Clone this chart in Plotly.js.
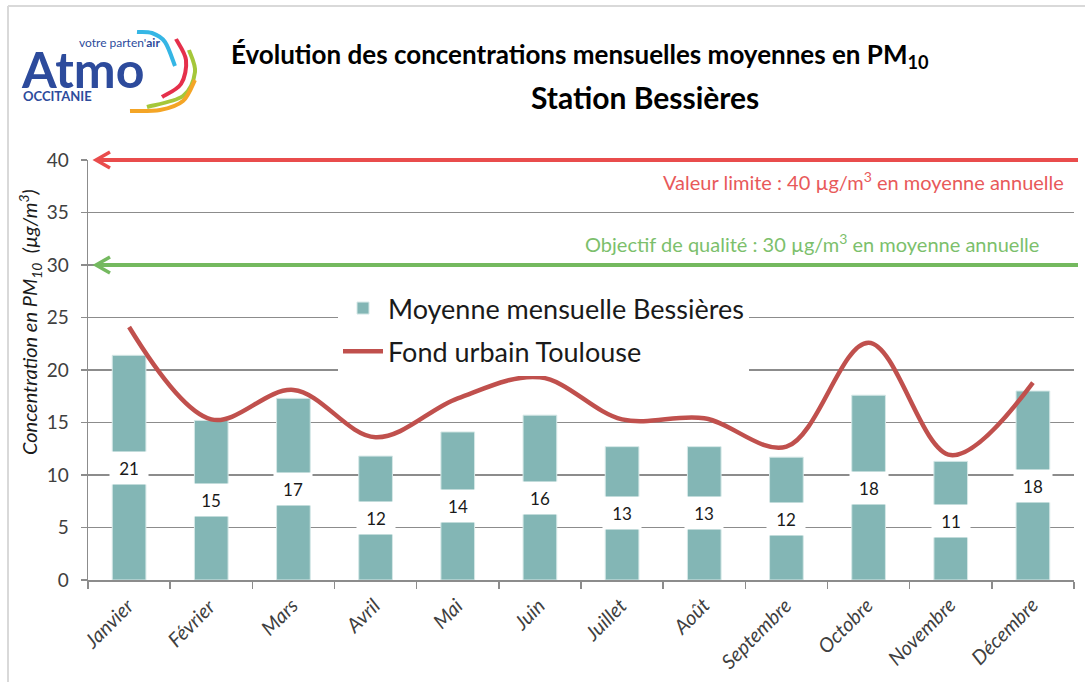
<!DOCTYPE html>
<html>
<head>
<meta charset="utf-8">
<script src="https://cdn.plot.ly/plotly-3.0.1.min.js"></script>
<style>html,body{margin:0;padding:0;background:#fff;}#chart{width:1085px;height:682px;}</style>
</head>
<body>
<div id="chart"></div>
<script>
// ---- data ----
const months = ["Janvier","Février","Mars","Avril","Mai","Juin","Juillet","Août","Septembre","Octobre","Novembre","Décembre"];
const bessieres = [21.4, 15.2, 17.3, 11.8, 14.1, 15.7, 12.7, 12.7, 11.7, 17.6, 11.3, 18.0];
const bessieresLabels = ["21","15","17","12","14","16","13","13","12","18","11","18"];
const toulouse = [24.1, 15.3, 18.1, 13.6, 17.3, 19.3, 15.3, 15.4, 12.7, 22.6, 11.9, 18.8];
const yTicks = [0, 5, 10, 15, 20, 25, 30, 35, 40];
const valeurLimite = 40;
const objectifQualite = 30;

// ---- layout geometry helpers (pixel -> paper) ----
const L = 88, R = 11, T = 160, B = 102, W = 1085, H = 682;
const PW = W - L - R, PH = H - T - B;
const YMAX = 40;
const px = p => (p - L) / PW;
const py = p => (H - B - p) / PH;
const vy = v => v / YMAX; // data value -> paper y

const FONT = "Lato, 'Open Sans', sans-serif";

const traces = [
  {
    type: "bar", x: months, y: bessieres, name: "Moyenne mensuelle Bessières",
    marker: {color: "#83b6b5", line: {color: "#d6e8e7", width: 1}},
    width: 0.41, legendgroup: "a", hoverinfo: "x+y"
  },
  {
    type: "scatter", mode: "lines", x: months, y: toulouse, name: "Fond urbain Toulouse",
    line: {color: "#c0504d", width: 4.5, shape: "spline", smoothing: 1},
    legendgroup: "b"
  }
];

const annotations = [];
// data labels in white boxes, centred at half-height of each bar
months.forEach((m, i) => {
  annotations.push({
    x: m, y: bessieres[i] / 2, xref: "x", yref: "y", text: bessieresLabels[i],
    showarrow: false, bgcolor: "#ffffff", width: 36, height: 30,
    font: {family: FONT, size: 17, color: "#1a1a1a"}
  });
});
// month labels (rotated, italic) under the axis
months.forEach(m => {
  annotations.push({
    x: m, xref: "x", yref: "paper", y: py(590), xanchor: "right", yanchor: "top",
    xshift: 12, text: "<i>" + m + "</i>", textangle: -45, showarrow: false,
    font: {family: FONT, size: 20, color: "#404040"}
  });
});

// titles
annotations.push({
  xref: "paper", yref: "paper", x: px(580), y: py(55), xanchor: "center", yanchor: "middle",
  text: "<b>Évolution des concentrations mensuelles moyennes en PM<sub>10</sub></b>", showarrow: false,
  font: {family: FONT, size: 26, color: "#000"}
});
annotations.push({
  xref: "paper", yref: "paper", x: px(645), y: py(97), xanchor: "center", yanchor: "middle",
  text: "<b>Station Bessières</b>", showarrow: false,
  font: {family: FONT, size: 30, color: "#000"}
});
// y axis title
annotations.push({
  xref: "paper", yref: "paper", x: px(30), y: py(322), xanchor: "center", yanchor: "middle",
  textangle: -90, showarrow: false,
  text: "<i>Concentration en PM<sub>10</sub>  (µg/m<sup>3</sup>)</i>",
  font: {family: FONT, size: 20, color: "#1a1a1a"}
});
// reference line texts
annotations.push({
  xref: "paper", yref: "paper", x: px(1066), y: py(181), xanchor: "right", yanchor: "middle",
  text: "Valeur limite : " + valeurLimite + " µg/m<sup>3</sup> en moyenne annuelle", showarrow: false,
  font: {family: FONT, size: 20, color: "#e8595a"}
});
annotations.push({
  xref: "paper", yref: "paper", x: px(1041), y: py(243), xanchor: "right", yanchor: "middle",
  text: "Objectif de qualité : " + objectifQualite + " µg/m<sup>3</sup> en moyenne annuelle", showarrow: false,
  font: {family: FONT, size: 20, color: "#7cbf6c"}
});
// logo text
annotations.push({
  xref: "paper", yref: "paper", x: px(19), y: py(69), xanchor: "left", yanchor: "middle",
  text: "<b>Atmo</b>", showarrow: false, font: {family: FONT, size: 50, color: "#2d4b9c"}
});
annotations.push({
  xref: "paper", yref: "paper", x: px(77), y: py(42), xanchor: "left", yanchor: "middle",
  text: "votre parten'<b>air</b>", showarrow: false, font: {family: FONT, size: 12, color: "#2d4b9c"}
});
annotations.push({
  xref: "paper", yref: "paper", x: px(21), y: py(96), xanchor: "left", yanchor: "middle",
  text: "<b>OCCITANIE</b>", showarrow: false, font: {family: FONT, size: 13, color: "#2d4b9c"}
});

// shapes
function curvePath(pts) {
  // Catmull-Rom through pixel points -> cubic bezier in paper coords
  let d = "M" + px(pts[0][0]) + "," + py(pts[0][1]);
  for (let i = 0; i < pts.length - 1; i++) {
    const p0 = pts[i - 1] || pts[i], p1 = pts[i], p2 = pts[i + 1], p3 = pts[i + 2] || p2;
    const c1 = [p1[0] + (p2[0] - p0[0]) / 6, p1[1] + (p2[1] - p0[1]) / 6];
    const c2 = [p2[0] - (p3[0] - p1[0]) / 6, p2[1] - (p3[1] - p1[1]) / 6];
    d += " C" + px(c1[0]) + "," + py(c1[1]) + " " + px(c2[0]) + "," + py(c2[1]) + " " + px(p2[0]) + "," + py(p2[1]);
  }
  return d;
}
const shapes = [];
// frame
shapes.push({type: "line", xref: "paper", yref: "paper", x0: px(8), x1: px(8), y0: py(6), y1: py(700), line: {color: "#d9d9d9", width: 2}});
shapes.push({type: "line", xref: "paper", yref: "paper", x0: px(8), x1: px(1100), y0: py(6), y1: py(6), line: {color: "#d9d9d9", width: 2}});
// logo arcs
[
  {c: "#35b6e5", p: [[137,32],[152,33],[165,42],[175,66]]},
  {c: "#e5304b", p: [[176,39],[186,60],[181,84],[162,97]]},
  {c: "#a5c73a", p: [[189,50],[195,72],[183,96],[147,107]]},
  {c: "#f4a526", p: [[195,80],[183,101],[160,110],[130,111]]}
].forEach(a => shapes.push({type: "path", xref: "paper", yref: "paper", path: curvePath(a.p), line: {color: a.c, width: 4}}));

// reference lines with left-pointing chevrons (drawn in paper coords so they are not clipped)
[[valeurLimite, "#e94c4c"], [objectifQualite, "#74b95f"]].forEach(([v, c]) => {
  shapes.push({type: "line", xref: "paper", yref: "paper", x0: px(97), x1: px(1078), y0: vy(v), y1: vy(v), line: {color: c, width: 4}});
  shapes.push({type: "path", xref: "paper", yref: "paper",
    path: "M" + px(110) + "," + (vy(v) + 8 / PH) + " L" + px(96) + "," + vy(v) + " L" + px(110) + "," + (vy(v) - 8 / PH),
    line: {color: c, width: 3.5}});
});

const layout = {
  width: W, height: H,
  margin: {l: L, r: R, t: T, b: B},
  paper_bgcolor: "#ffffff", plot_bgcolor: "#ffffff",
  font: {family: FONT, color: "#404040"},
  showlegend: true,
  legend: {
    x: px(338), y: py(284), xanchor: "left", yanchor: "top",
    bgcolor: "#ffffff", font: {family: FONT, size: 27, color: "#1a1a1a"},
    traceorder: "grouped", tracegroupgap: 5, itemwidth: 40
  },
  xaxis: {
    type: "category", range: [-0.5, 11.5], tickson: "boundaries",
    showticklabels: false,
    ticks: "outside", ticklen: 7, tickcolor: "#8c8c8c", tickwidth: 1.5,
    showline: true, linecolor: "#8c8c8c", linewidth: 1.5,
    showgrid: false, automargin: false
  },
  yaxis: {
    range: [0, YMAX], tickvals: yTicks, ticks: "outside", ticklen: 6,
    tickcolor: "#8c8c8c", tickwidth: 1.5,
    showline: true, linecolor: "#8c8c8c", linewidth: 1.5,
    showgrid: true, gridcolor: "#8c8c8c", gridwidth: 1.5, zeroline: false,
    ticklabelstandoff: 8,
    tickfont: {family: FONT, size: 19, color: "#404040"}
  },
  bargap: 0.59,
  annotations: annotations,
  shapes: shapes
};

Plotly.newPlot("chart", traces, layout, {displayModeBar: false, staticPlot: true});
</script>
</body>
</html>
